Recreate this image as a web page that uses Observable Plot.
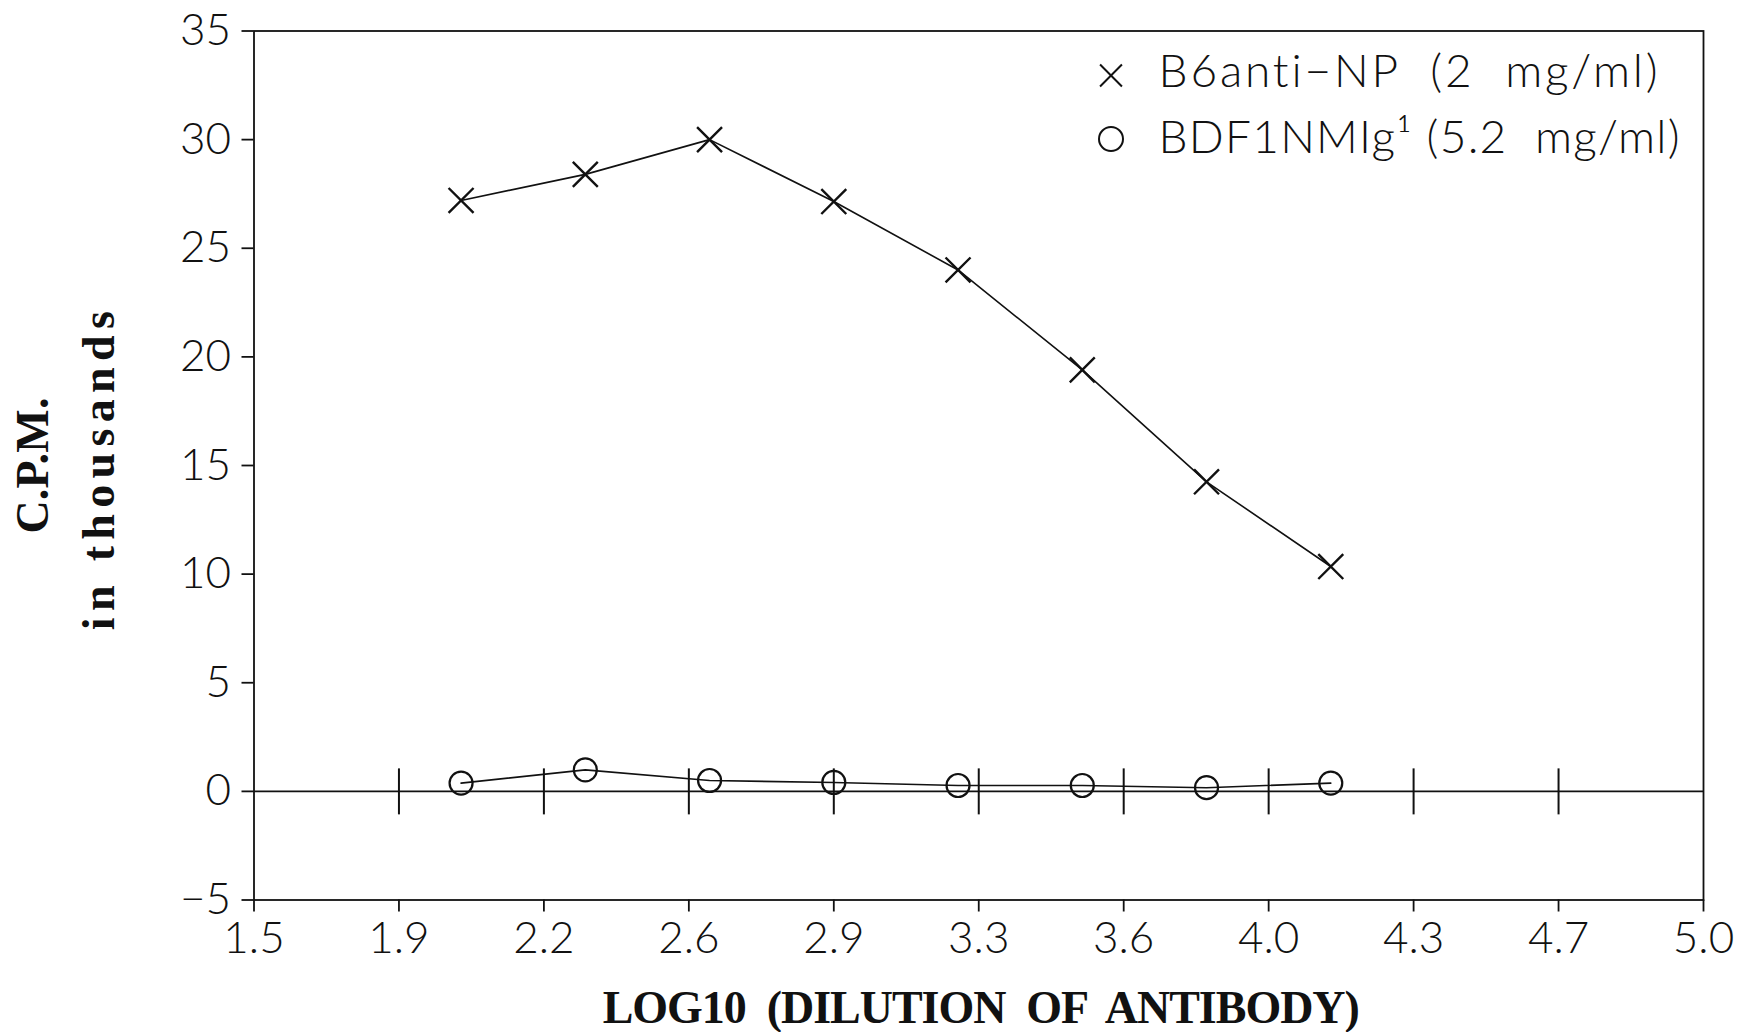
<!DOCTYPE html>
<html>
<head>
<meta charset="utf-8">
<script src="https://cdn.jsdelivr.net/npm/d3@7"></script>
<script src="https://cdn.jsdelivr.net/npm/@observablehq/plot@0.6"></script>
<style>
  body { margin: 0; background: #fff; }
</style>
</head>
<body>
<div id="chart"></div>
<script>
// ---- data ----
const dilutionLog = [2.0, 2.3, 2.6, 2.9, 3.2, 3.5, 3.8, 4.1];
const b6AntiNP   = [27.2, 28.4, 30.0, 27.15, 24.0, 19.4, 14.25, 10.35];
const bdf1NMIg   = [0.38, 0.99, 0.50, 0.41, 0.27, 0.27, 0.17, 0.38];
const seriesNames = ["B6anti\u2212NP  (2  mg/ml)", "BDF1NMIg\u00B9 (5.2  mg/ml)"];
const xTickValues = [1.5, 1.85, 2.2, 2.55, 2.9, 3.25, 3.6, 3.95, 4.3, 4.65, 5.0];
const xTickLabels = ["1.5", "1.9", "2.2", "2.6", "2.9", "3.3", "3.6", "4.0", "4.3", "4.7", "5.0"];
const yTickValues = [-5, 0, 5, 10, 15, 20, 25, 30, 35];
const zeroLevel = [0];
const xTitle = "LOG10  (DILUTION  OF  ANTIBODY)";
const yTitleLines = ["C.P.M.", "in thousands"];

const rowsA = dilutionLog.map((x, i) => ({x, y: b6AntiNP[i]}));
const rowsB = dilutionLog.map((x, i) => ({x, y: bdf1NMIg[i]}));
const zeroTicks = xTickValues.slice(1, -1).map(x => ({x, y: zeroLevel[0]}));

const vTick = { draw(ctx) { ctx.moveTo(0, -23); ctx.lineTo(0, 23); } };

const ink = "#111";
const sansFont = "Lato, 'Open Sans', Roboto, sans-serif";
const serifFont = "'Liberation Serif', 'DejaVu Serif', serif";

const chart = Plot.plot({
  width: 1751,
  height: 1032,
  marginLeft: 253.5,
  marginRight: 48,
  marginTop: 30.5,
  marginBottom: 132.5,
  x: {type: "linear", domain: [1.5, 5.0]},
  y: {type: "linear", domain: [-5, 35]},
  style: {fontFamily: sansFont, fontSize: "44px", fontWeight: 300, color: ink, background: "#fff"},
  marks: [
    Plot.frame({stroke: ink, strokeWidth: 1.8}),
    Plot.ruleY(zeroLevel, {stroke: ink, strokeWidth: 1.6}),
    Plot.dot(zeroTicks, {x: "x", y: "y", symbol: vTick, stroke: ink, fill: "none", strokeWidth: 2}),
    Plot.axisX(xTickValues, {
      tickFormat: d => xTickLabels[xTickValues.indexOf(d)],
      tickSize: 12, tickPadding: 10, label: null, stroke: ink, strokeWidth: 1.8,
      fontSize: 44, fontWeight: 300, fill: ink
    }),
    Plot.axisY(yTickValues, {
      tickSize: 12, tickPadding: 11, label: null, stroke: ink, strokeWidth: 1.8,
      fontSize: 44, fontWeight: 300, fill: ink
    }),
    Plot.line(rowsA, {x: "x", y: "y", stroke: ink, strokeWidth: 1.6}),
    Plot.line(rowsB, {x: "x", y: "y", stroke: ink, strokeWidth: 1.6}),
    Plot.dot(rowsA, {x: "x", y: "y", symbol: "times", r: 11.4, stroke: ink, strokeWidth: 2.4}),
    Plot.dot(rowsB, {x: "x", y: "y", symbol: "circle", r: 11.5, stroke: ink, fill: "none", strokeWidth: 2.2}),
    // legend
    Plot.dot([seriesNames[0]], {frameAnchor: "top-right", dx: -592.5, dy: 44.5, symbol: "times", r: 10, stroke: ink, strokeWidth: 2}),
    Plot.dot([seriesNames[1]], {frameAnchor: "top-right", dx: -592.5, dy: 108, symbol: "circle", r: 12, stroke: ink, fill: "none", strokeWidth: 2}),
    Plot.text([seriesNames[0]], {text: d => d, frameAnchor: "top-right", dx: -545, dy: 41.5, textAnchor: "start", lineAnchor: "middle", fontSize: 46, fontWeight: 300, fill: ink}),
    Plot.text([seriesNames[1]], {text: d => d, frameAnchor: "top-right", dx: -545, dy: 107, textAnchor: "start", lineAnchor: "middle", fontSize: 46, fontWeight: 300, fill: ink}),
    // titles
    Plot.text([xTitle], {text: d => d, frameAnchor: "bottom", dx: 2, dy: 122.5, textAnchor: "middle", lineAnchor: "bottom", fontFamily: serifFont, fontWeight: "bold", fontSize: 46, fill: ink}),
    Plot.text([yTitleLines[0]], {text: d => d, frameAnchor: "left", dx: -206, dy: 0, rotate: -90, textAnchor: "middle", lineAnchor: "bottom", fontFamily: serifFont, fontWeight: "bold", fontSize: 46, fill: ink}),
    Plot.text([yTitleLines[1]], {text: d => d, frameAnchor: "left", dx: -140.5, dy: 2, rotate: -90, textAnchor: "middle", lineAnchor: "bottom", fontFamily: serifFont, fontWeight: "bold", fontSize: 46, fill: ink})
  ]
});

document.getElementById("chart").appendChild(chart);

// fit text widths to the reference with letter spacing
const fitWidths = new Map([
  [seriesNames[0], 500],
  [seriesNames[1], 521],
  [xTitle, 757],
  [yTitleLines[0], 136],
  [yTitleLines[1], 319]
]);
d3.select(chart).selectAll("text").each(function () {
  const w = fitWidths.get(this.textContent);
  if (w) {
    const natural = this.getComputedTextLength();
    const n = this.textContent.length;
    const ls = (w - natural) / Math.max(1, n - 1);
    this.setAttribute("letter-spacing", ls.toFixed(2));
  }
});
</script>
</body>
</html>
